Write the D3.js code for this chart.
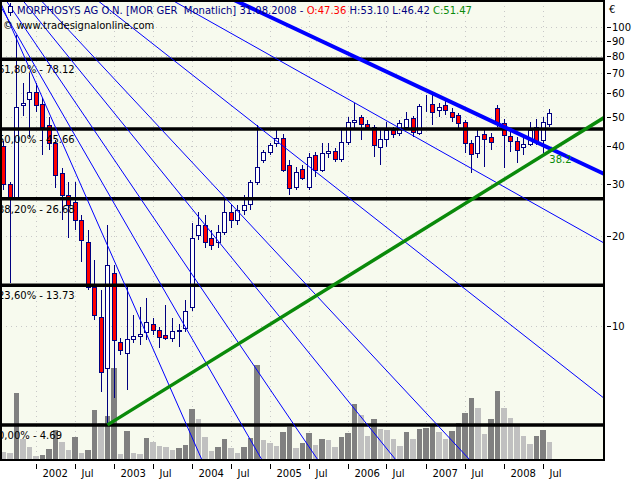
<!DOCTYPE html>
<html><head><meta charset="utf-8">
<script src="https://cdnjs.cloudflare.com/ajax/libs/d3/7.8.5/d3.min.js"></script>
<style>
body{margin:0;background:#fff}
svg{display:block}
text{font-family:"DejaVu Sans",sans-serif;font-size:10px;white-space:pre}
</style>
</head><body>
<svg id="c" width="640" height="480"></svg>
<script>
// ---- data (monthly bars, Aug 2001 .. Aug 2008) ----
const firstMonth = "2001-08";
const open = [40.1,29.9,27.1,54.9,57.5,60.7,55.3,47.1,41.0,32.5, 27.5,26.0,22.7,19.1,13.5,10.75,7.26,15.1,8.87,8.15, 9.08,9.29,9.58,10.2,9.73,9.36,9.15,9.66,9.88,11.6, 20.2,21.8,19.7,19.1,20.7,24.1,22.7,24.5,25.6,30.4, 36.0,38.3,41.0,42.6,34.6,29.2,33.6,29.2,37.4,33.3, 38.0,38.6,36.2,41.3,48.2,50.1,47.5,46.4,39.8,42.3, 45.3,44.3,46.4,49.7,44.3,55.1,55.3,52.8,54.9,52.0, 50.9,48.2,41.0,38.0,43.9,42.9,53.7,47.8,43.3,41.6, 39.8,40.7,46.4,42.0,47.36];
const high = [41.6,30.4,94.1,65.0,70.2,65.0,58.0,50.1,42.0,33.8, 30.4,30.4,23.6,21.0,16.7,13.2,21.8,16.0,9.15,13.6, 10.9,11.6,12.4,10.7,9.96,11.8,10.7,10.2,12.3,22.2, 24.1,23.6,21.0,21.8,26.7,25.4,25.4,27.5,30.8,47.1, 38.9,41.0,45.3,43.9,36.0,34.1,34.6,38.0,38.3,41.0, 41.0,39.5,46.0,50.1,55.8,50.9,48.9,47.1,45.3,48.2, 46.4,48.9,52.0,50.5,55.3,59.3,59.8,55.8,57.1,53.7, 51.6,48.9,42.0,45.3,45.3,44.3,55.0,49.3,45.3,42.9, 42.6,48.2,49.3,50.1,53.10];
const low = [28.6,14.0,26.6,50.5,42.9,52.0,37.4,38.9,29.0,22.7, 19.7,21.0,16.4,13.2,10.5,6.04,4.69,5.77,8.02,6.13, 8.8,8.67,9.01,9.36,8.47,9.01,8.87,8.54,9.58,11.3, 19.4,18.3,18.0,18.3,20.2,21.3,21.8,23.6,24.5,29.7, 35.2,37.4,39.8,32.8,27.5,28.6,30.8,28.6,31.6,32.8, 36.5,35.4,35.4,40.4,45.3,42.0,45.3,36.8,34.6,39.8, 42.6,43.3,45.3,42.9,43.6,52.0,47.1,50.1,50.9,48.2, 45.3,38.0,32.5,36.5,34.1,38.9,46.4,33.9,38.3,35.2, 37.4,40.1,40.4,38.0,46.42];
const close = [29.9,27.1,54.1,55.8,60.7,54.9,46.4,41.0,32.0,27.5, 25.4,22.7,19.4,13.5,10.9,7.04,16.0,9.01,8.34,9.08, 9.29,9.43,10.35,9.73,9.22,9.15,9.66,9.73,11.3,19.7, 21.8,19.1,18.7,20.7,24.1,22.7,24.5,25.4,30.4,34.1, 38.3,40.4,42.6,33.3,29.0,32.8,31.3,36.8,33.3,38.0, 38.6,36.2,41.3,48.2,48.9,47.5,46.4,40.4,42.3,45.3, 43.9,47.8,49.3,44.6,54.5,54.9,52.0,54.1,52.8,50.1, 47.8,41.0,37.7,43.3,42.3,41.3,47.8,43.6,41.6,38.9, 40.7,45.3,41.6,48.2,51.47];
const volume = [80,70,670,210,130,40,50,110,300,180, 100,230,70,100,500,370,440,920,60,290, 70,60,220,180,140,130,100,120,150,510, 410,230,90,130,210,120,70,130,220,950, 200,170,140,280,330,120,170,270,150,210, 200,130,230,270,560,450,240,410,310,300, 210,140,280,210,310,320,340,280,210,290, 370,470,620,520,260,410,690,520,420,350, 240,160,240,300,180];

const priceTicks = [100,90,80,70,60,50,40,30,20,10];
const timeTickMonths = ["2002-01","2002-07","2003-01","2003-07","2004-01","2004-07","2005-01","2005-07","2006-01","2006-07","2007-01","2007-07","2008-01","2008-07"];
const timeTickLabels = ["2002","Jul","2003","Jul","2004","Jul","2005","Jul","2006","Jul","2007","Jul","2008","Jul"];

const fibNames = ["61,80%","50,00%","38,20%","23,60%","0,00%"];
const fibValues = [78.12,45.66,26.68,13.73,4.69];

// trend lines: [barIndex1, price1, barIndex2, price2]
const fanLines = [
  [2.08,90.5,30.54,3.58],
  [2.54,90.5,39.77,3.58],
  [4.54,90.5,48.38,3.58],
  [7.92,90.5,60.38,3.58],
  [11.46,90.5,71.77,3.58],
  [22.23,90.5,91.77,5.90],
  [36.85,90.5,92.38,19.0]
];
const resistanceLine = [61.0,67.6,91.77,32.8];
const supportLine = [16,4.69,91.77,48.9];
const crossLabel = "38.2";

const title = "MORPHOSYS AG O.N. [MOR GER  Monatlich] 31.08.2008 - ";
const site = "\u00a9 www.tradesignalonline.com";

// ---- layout ----
const L = 1, T = 1, R = 604, B = 460;
const svg = d3.select("#c");
const monthIndex = s => { const [y,m] = s.split("-").map(Number); const [y0,m0] = firstMonth.split("-").map(Number); return (y-y0)*12 + (m-m0); };

const x = d3.scaleLinear().domain([0, 92]).range([3.5, 3.5 + 6.5*92]);
const y = d3.scaleLog().domain([3.58, 122.2]).range([B, T]);
const yv = d3.scaleLinear().domain([0, 1000]).range([B, B - 100]);

svg.append("defs").append("clipPath").attr("id","clip")
  .append("rect").attr("x",L).attr("y",T).attr("width",R-L).attr("height",B-T);

svg.append("rect").attr("x",L).attr("y",T).attr("width",R-L).attr("height",B-T).attr("fill","#F7FAEE");

const plot = svg.append("g").attr("clip-path","url(#clip)");

// grid
const grid = plot.append("g").attr("stroke","#C8C8C8").attr("stroke-dasharray","1,4").attr("shape-rendering","crispEdges");
priceTicks.forEach(v => grid.append("line").attr("x1",L).attr("x2",R).attr("y1",Math.round(y(v))+0.5).attr("y2",Math.round(y(v))+0.5));
timeTickMonths.forEach(m => { const xx = Math.floor(x(monthIndex(m)))+0.5; grid.append("line").attr("x1",xx).attr("x2",xx).attr("y1",T).attr("y2",B); });

// volume
const idx = d3.range(open.length);
plot.append("g").attr("shape-rendering","crispEdges").selectAll("rect").data(idx).join("rect")
  .attr("x", i => x(i) - 2.75).attr("width", 5.5)
  .attr("y", i => yv(volume[i])).attr("height", i => B - yv(volume[i]))
  .attr("fill", i => (i > 0 && volume[i] > volume[i-1]) ? "#808080" : "#C0C0C0");

// candles
const cg = plot.append("g").attr("shape-rendering","crispEdges");
idx.forEach(i => {
  const cx = Math.floor(x(i)) + 0.5;
  cg.append("line").attr("x1",cx).attr("x2",cx).attr("y1",y(high[i])).attr("y2",y(low[i])).attr("stroke","#000080");
  const top = Math.round(y(Math.max(open[i],close[i]))) + 0.5;
  const bot = Math.round(y(Math.min(open[i],close[i]))) + 0.5;
  cg.append("rect").attr("x",cx-2).attr("width",4).attr("y",top).attr("height",Math.max(0,bot-top))
    .attr("fill", close[i] < open[i] ? "#FF0000" : "#FFFFFF").attr("stroke","#000080");
});

// fibonacci levels
fibValues.forEach((v,k) => {
  plot.append("line").attr("x1",L).attr("x2",R).attr("y1",y(v)).attr("y2",y(v)).attr("stroke","#000").attr("stroke-width",3.5);
  plot.append("text").attr("x",-2).attr("y",y(v)+14).attr("fill","#000").text(fibNames[k] + " - " + v.toFixed(2));
});

// helper for extended lines
function ext(l, back) {
  const x1 = x(l[0]), y1 = y(l[1]), x2 = x(l[2]), y2 = y(l[3]);
  const dx = x2-x1, dy = y2-y1, len = Math.hypot(dx,dy);
  const k = 2000/len;
  return back ? [x1 - dx*k, y1 - dy*k, x2 + dx*k, y2 + dy*k] : [x1, y1, x2 + dx*k, y2 + dy*k];
}
fanLines.forEach(l => { const e = ext(l, true);
  plot.append("line").attr("x1",e[0]).attr("y1",e[1]).attr("x2",e[2]).attr("y2",e[3]).attr("stroke","#0000FF").attr("stroke-width",1); });
{ const e = ext(resistanceLine, true);
  plot.append("line").attr("x1",e[0]).attr("y1",e[1]).attr("x2",e[2]).attr("y2",e[3]).attr("stroke","#0000FF").attr("stroke-width",4); }
{ const e = ext(supportLine, false);
  plot.append("line").attr("x1",e[0]).attr("y1",e[1]).attr("x2",e[2]).attr("y2",e[3]).attr("stroke","#0A8A0A").attr("stroke-width",3.5); }

// crossing label
{
  const a = resistanceLine, b = supportLine;
  const ax1=x(a[0]), ay1=y(a[1]), ax2=x(a[2]), ay2=y(a[3]);
  const bx1=x(b[0]), by1=y(b[1]), bx2=x(b[2]), by2=y(b[3]);
  const ma=(ay2-ay1)/(ax2-ax1), mb=(by2-by1)/(bx2-bx1);
  const ix = (by1 - ay1 + ma*ax1 - mb*bx1)/(ma-mb), iy = ay1 + ma*(ix-ax1);
  plot.append("text").attr("x",ix-3).attr("y",iy+13).attr("fill","#0A8A0A").text(crossLabel);
}

// frame
svg.append("rect").attr("x",L).attr("y",T).attr("width",R-L).attr("height",B-T).attr("fill","none").attr("stroke","#000").attr("stroke-width",2);

// right axis
const ax = svg.append("g");
priceTicks.forEach(v => {
  const yy = Math.round(y(v)) + 0.5;
  ax.append("line").attr("x1",607).attr("x2",611).attr("y1",yy).attr("y2",yy).attr("stroke","#000").attr("shape-rendering","crispEdges");
  ax.append("text").attr("x",612).attr("y",yy).attr("dy","0.35em").attr("fill","#000").text(v);
});
ax.append("text").attr("x",609).attr("y",13).attr("fill","#000").text("\u20ac");

// bottom axis
timeTickMonths.forEach((m,k) => {
  const xx = Math.floor(x(monthIndex(m))) + 0.5;
  ax.append("line").attr("x1",xx).attr("x2",xx).attr("y1",464).attr("y2",469).attr("stroke","#000").attr("shape-rendering","crispEdges");
  ax.append("text").attr("x",xx+6).attr("y",477).attr("fill","#000").text(timeTickLabels[k]);
});

// header
const hd = svg.append("g");
hd.append("line").attr("x1",10.5).attr("x2",10.5).attr("y1",3).attr("y2",16).attr("stroke","#000080").attr("shape-rendering","crispEdges");
hd.append("rect").attr("x",8.5).attr("y",6.5).attr("width",4).attr("height",6).attr("fill","#F7FAEE").attr("stroke","#000080").attr("shape-rendering","crispEdges");
const last = open.length - 1;
const t = hd.append("text").attr("x",17).attr("y",14);
t.append("tspan").attr("fill","#000080").text(title);
t.append("tspan").attr("fill","#FF0000").text("O:" + open[last].toFixed(2));
t.append("tspan").attr("fill","#000080").text(" H:" + high[last].toFixed(2) + " L:" + low[last].toFixed(2) + " ");
t.append("tspan").attr("fill","#0A8A0A").text("C:" + close[last].toFixed(2));
hd.append("text").attr("x",3).attr("y",29).attr("fill","#000").text(site);
</script>
</body></html>
